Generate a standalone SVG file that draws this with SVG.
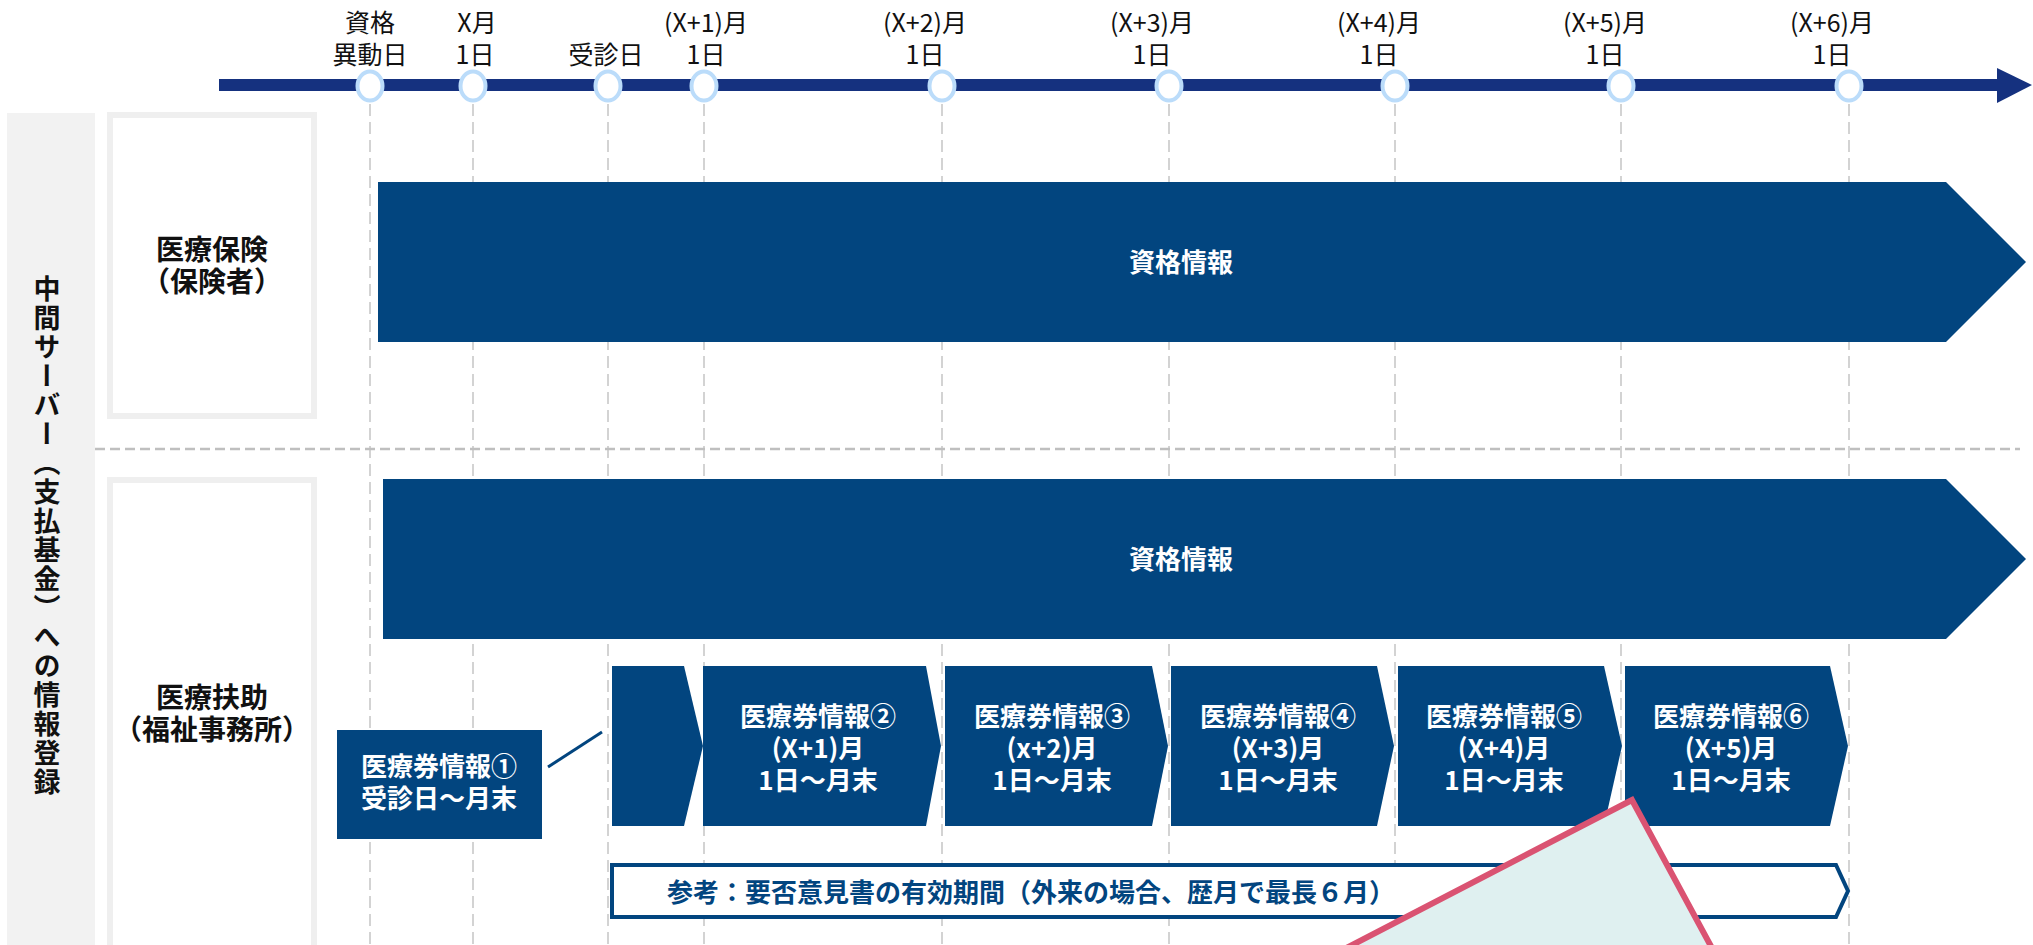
<svg xmlns="http://www.w3.org/2000/svg" width="2033" height="945" viewBox="0 0 2033 945">
<style>
text{font-family:"Noto Sans CJK JP","Noto Sans",sans-serif}
.ax{font-size:25px;fill:#111;text-anchor:middle}
.lbl{font-size:28px;font-weight:bold;fill:#111;text-anchor:middle}
.wt{font-size:26px;font-weight:bold;fill:#fff;text-anchor:middle}
.blue{fill:#02457F}
.vdash{stroke:#D3D3D3;stroke-width:2;stroke-dasharray:12 6;fill:none}
.dot{fill:#fff;stroke:#BBDCFA;stroke-width:4}
</style>
<rect width="2033" height="945" fill="#fff"/>
<g id="grid">
<line class="vdash" x1="370" y1="104" x2="370" y2="945"/>
<line class="vdash" x1="473" y1="104" x2="473" y2="945"/>
<line class="vdash" x1="608" y1="104" x2="608" y2="945"/>
<line class="vdash" x1="704" y1="104" x2="704" y2="945"/>
<line class="vdash" x1="942" y1="104" x2="942" y2="945"/>
<line class="vdash" x1="1169" y1="104" x2="1169" y2="945"/>
<line class="vdash" x1="1395" y1="104" x2="1395" y2="945"/>
<line class="vdash" x1="1621" y1="104" x2="1621" y2="945"/>
<line class="vdash" x1="1849" y1="104" x2="1849" y2="945"/>
<line x1="95" y1="449" x2="2020" y2="449" stroke="#BFBFBF" stroke-width="2.5" stroke-dasharray="10 5"/>
</g>
<g id="axis">
<rect x="219" y="79" width="1780" height="12" fill="#15317F"/>
<polygon points="1997,68 2032,85 1997,103" fill="#15317F"/>
<ellipse class="dot" cx="370" cy="86" rx="12.5" ry="14.5"/>
<ellipse class="dot" cx="473" cy="86" rx="12.5" ry="14.5"/>
<ellipse class="dot" cx="608" cy="86" rx="12.5" ry="14.5"/>
<ellipse class="dot" cx="704" cy="86" rx="12.5" ry="14.5"/>
<ellipse class="dot" cx="942" cy="86" rx="12.5" ry="14.5"/>
<ellipse class="dot" cx="1169" cy="86" rx="12.5" ry="14.5"/>
<ellipse class="dot" cx="1395" cy="86" rx="12.5" ry="14.5"/>
<ellipse class="dot" cx="1621" cy="86" rx="12.5" ry="14.5"/>
<ellipse class="dot" cx="1849" cy="86" rx="12.5" ry="14.5"/>
<text class="ax" x="370" y="32">資格<tspan x="370" dy="32">異動日</tspan></text>
<text class="ax" x="477" y="32">X月<tspan x="475" dy="32">1日</tspan></text>
<text class="ax" x="606" y="64">受診日</text>
<text class="ax" x="706" y="32">(X+1)月<tspan x="706" dy="32">1日</tspan></text>
<text class="ax" x="925" y="32">(X+2)月<tspan x="925" dy="32">1日</tspan></text>
<text class="ax" x="1152" y="32">(X+3)月<tspan x="1152" dy="32">1日</tspan></text>
<text class="ax" x="1379" y="32">(X+4)月<tspan x="1379" dy="32">1日</tspan></text>
<text class="ax" x="1605" y="32">(X+5)月<tspan x="1605" dy="32">1日</tspan></text>
<text class="ax" x="1832" y="32">(X+6)月<tspan x="1832" dy="32">1日</tspan></text>
</g>
<g id="lane-header">
<rect x="7" y="113" width="88" height="840" fill="#F2F2F2"/>
<text x="47" y="275" style="writing-mode:vertical-rl" font-size="27" font-weight="bold" letter-spacing="2" fill="#111">中間サーバー（支払基金）への情報登録</text>
</g>
<g id="node-iryohoken">
<rect x="110" y="115" width="204" height="301" fill="#fff" stroke="#EFEFEF" stroke-width="6"/>
<text class="lbl" x="212" y="260">医療保険<tspan x="212" dy="32">（保険者）</tspan></text>
</g>
<g id="node-iryofujo">
<rect x="110" y="480" width="204" height="500" fill="#fff" stroke="#EFEFEF" stroke-width="6"/>
<text class="lbl" x="212" y="708">医療扶助<tspan x="212" dy="32">（福祉事務所）</tspan></text>
</g>
<g id="node-shikaku1">
<polygon class="blue" points="378,182 1946,182 2026,262 1946,342 378,342"/>
<text class="wt" x="1181" y="272" font-size="25">資格情報</text>
</g>
<g id="node-shikaku2">
<polygon class="blue" points="383,479 1946,479 2026,559 1946,639 383,639"/>
<text class="wt" x="1181" y="569" font-size="25">資格情報</text>
</g>
<g id="connectors">
<line x1="548" y1="767" x2="602" y2="732" stroke="#02457F" stroke-width="3"/>
</g>
<g id="node-ken1">
<rect class="blue" x="337" y="730" width="205" height="109"/>
<text class="wt" x="439" y="776">医療券情報①<tspan x="439" dy="32">受診日～月末</tspan></text>
</g>
<g id="node-chev0">
<polygon class="blue" points="612,666 684,666 703,746 684,826 612,826"/>
</g>
<g id="node-ken2">
<polygon class="blue" points="703,666 926,666 941,746 926,826 703,826"/>
<text class="wt" x="818" y="726">医療券情報②<tspan x="818" dy="32">(X+1)月</tspan><tspan x="818" dy="32">1日～月末</tspan></text>
</g>
<g id="node-ken3">
<polygon class="blue" points="945,666 1152,666 1168,746 1152,826 945,826"/>
<text class="wt" x="1052" y="726">医療券情報③<tspan x="1052" dy="32">(x+2)月</tspan><tspan x="1052" dy="32">1日～月末</tspan></text>
</g>
<g id="node-ken4">
<polygon class="blue" points="1171,666 1377,666 1394,746 1377,826 1171,826"/>
<text class="wt" x="1278" y="726">医療券情報④<tspan x="1278" dy="32">(X+3)月</tspan><tspan x="1278" dy="32">1日～月末</tspan></text>
</g>
<g id="node-ken5">
<polygon class="blue" points="1398,666 1604,666 1622,746 1604,826 1398,826"/>
<text class="wt" x="1504" y="726">医療券情報⑤<tspan x="1504" dy="32">(X+4)月</tspan><tspan x="1504" dy="32">1日～月末</tspan></text>
</g>
<g id="node-ken6">
<polygon class="blue" points="1625,666 1830,666 1848,746 1830,826 1625,826"/>
<text class="wt" x="1731" y="726">医療券情報⑥<tspan x="1731" dy="32">(X+5)月</tspan><tspan x="1731" dy="32">1日～月末</tspan></text>
</g>
<g id="node-sanko">
<polygon points="612,865 1836,865 1848,891 1836,917 612,917" fill="#fff" stroke="#02457F" stroke-width="4"/>
<text x="667" y="902" font-size="26" font-weight="bold" fill="#02457F">参考：要否意見書の有効期間（外来の場合、歴月で最長６月）</text>
</g>
<g id="callout">
<polygon points="1632,800 1246,1000 1740,1000" fill="#DFF0F0" stroke="#DA5372" stroke-width="6" stroke-linejoin="miter"/>
</g>
</svg>
